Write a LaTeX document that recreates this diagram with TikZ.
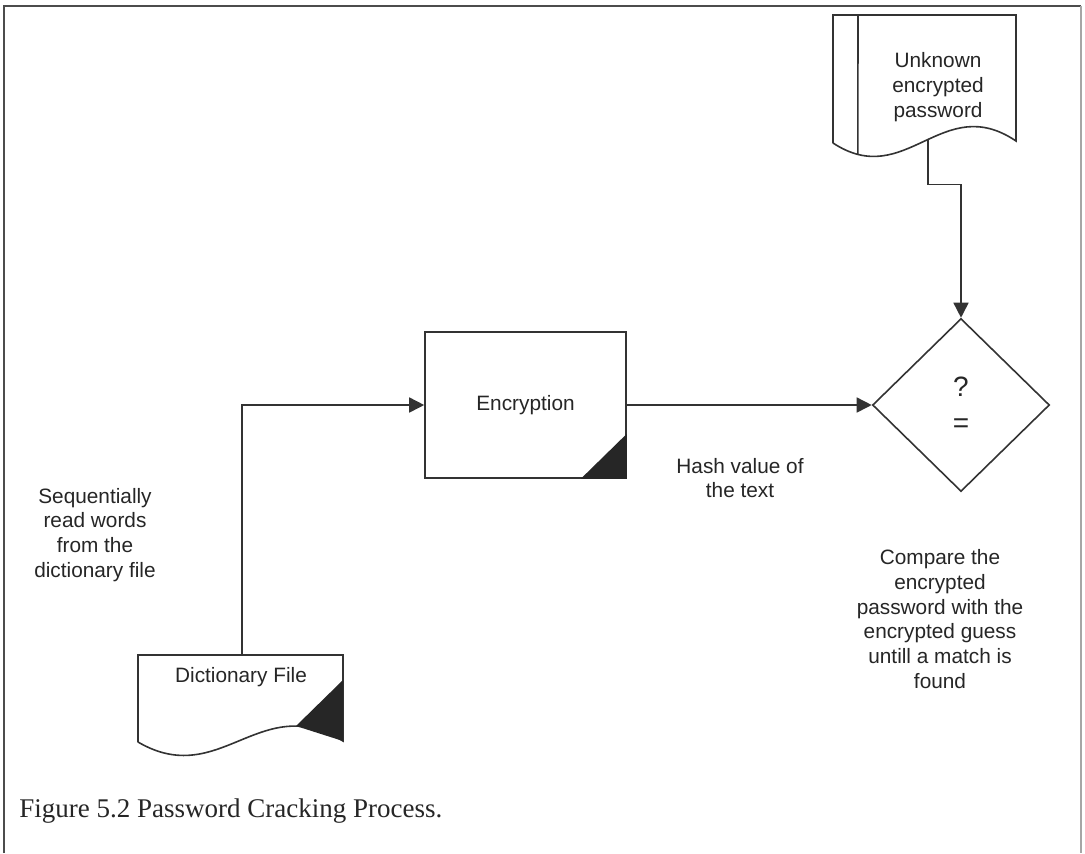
\documentclass[tikz,border=0pt]{standalone}
\usepackage{fontspec}
\setmainfont{Liberation Serif}
\setsansfont{Liberation Sans}
\usepackage{tikz}
\usetikzlibrary{arrows.meta, shapes.geometric}

\begin{document}
\begin{tikzpicture}[
	x=0.5pt, y=-0.5pt,
	inkline/.style={draw=black!80, line width=0.8pt},
	flowarrow/.style={inkline, -{Triangle[length=7.5pt, width=7.5pt]}},
	boxlabel/.style={font=\sffamily\fontsize{10.4}{12.4}\selectfont, text=black!85,
		align=center, inner sep=0pt},
	process/.style={rectangle, inkline, fill=white, minimum width=100.5pt,
		minimum height=73pt, font=\sffamily\fontsize{10.4}{12.4}\selectfont, text=black!85},
	decision/.style={diamond, inkline, fill=white, minimum width=88.5pt,
		minimum height=86.5pt, inner sep=0pt, align=center,
		font=\sffamily\fontsize{14}{18}\selectfont, text=black!85},
	cornermark/.style={fill=black!85}
	]
	
	% Page and frame
	\useasboundingbox (0,0) rectangle (1085,853);
	\fill[white] (0,0) rectangle (1085,853);
	\draw[draw=black!70, line width=0.8pt] (4,853) -- (4,6) -- (1081,6);
	\draw[draw=black!35, line width=0.6pt] (1081,6) -- (1081,853);
	
	% Dictionary file (document shape)
	\draw[inkline, fill=white] (138,742) -- (138,655) -- (343,655) -- (343,741)
		.. controls (260,690) and (220,790) .. (138,742);
	\fill[cornermark] (343,680) -- (343,741) -- (296,726) -- cycle;
	\coordinate (dicttop) at (242,655);
	\node[boxlabel] (dict) at (241,677) {Dictionary File};
	
	% Encryption step
	\node[process] (enc) at (525.5,405) {Encryption};
	\fill[cornermark] (enc.south east) -- ++(0,-45) -- ++(-46,45) -- cycle;
	
	% Unknown password (document shape with side bar)
	\draw[inkline, fill=white] (833,143) -- (833,15) -- (1016,15) -- (1016,141)
		.. controls (942,91) and (906,191) ..
		coordinate[pos=0.476] (ustart) coordinate[pos=0.88] (ufold) (833,143);
	\draw[inkline] (858,15) -- (ufold);
	\node[boxlabel] (unk) at (938,87) {Unknown\\encrypted\\password};
	
	% Comparison
	\node[decision] (cmp) at (961,405) {?\\=};
	
	% Connectors
	\draw[flowarrow] (dicttop) |- (enc.west);
	\draw[flowarrow] (enc.east) -- (cmp.west);
	\draw[flowarrow] (ustart) -- ++(0,45) -| (cmp.north);
	
	% Notes
	\node[boxlabel] (readnote) at (95,535) {Sequentially\\read words\\from the\\dictionary file};
	\node[boxlabel] (hashnote) at (740,478) {Hash value of\\the text};
	\node[boxlabel] (cmpnote) at (940,619) {Compare the\\encrypted\\password with the\\encrypted guess\\untill a match is\\found};
	
	% Caption
	\node[anchor=base west, inner sep=0pt, text=black!85,
		font=\fontsize{13.5}{16}\selectfont] (caption) at (19,817)
		{Figure 5.2 Password Cracking Process.};
	
\end{tikzpicture}
\end{document}
